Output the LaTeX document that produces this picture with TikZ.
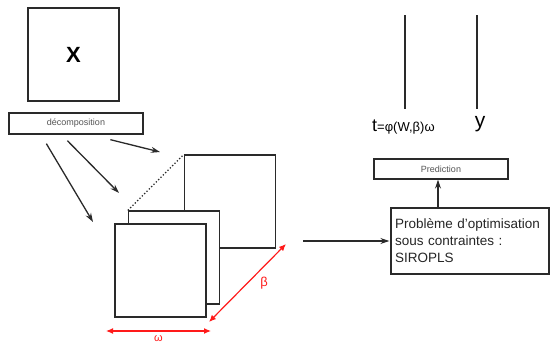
\documentclass[tikz,border=0pt]{standalone}
\usepackage{fontspec}
\setmainfont{Liberation Sans}
\usetikzlibrary{arrows.meta,positioning}
\definecolor{lineblack}{HTML}{2A2A2A}
\definecolor{labelgray}{HTML}{555555}
\definecolor{dimred}{HTML}{FF1A1A}

\begin{document}
\begin{tikzpicture}[x=1pt,y=-1pt,
  box/.style={draw=lineblack,line width=1.3pt,fill=white,inner sep=0pt},
  tag/.style={box,font=\fontsize{9}{10}\selectfont,text=labelgray},
  sheet/.style={box,minimum width=91,minimum height=93},
  link/.style={lineblack,line width=1.3pt},
  >={Stealth[length=9pt,width=6pt]},
  dim/.style={draw=dimred,line width=1.2pt,{Latex[length=7pt,width=6pt]}-{Latex[length=7pt,width=6pt]}}]
\useasboundingbox (0,0) rectangle (550,343);
% input and decomposition
\node[box,minimum width=91,minimum height=93,font=\fontsize{22}{22}\bfseries] (x) at (73.5,54.5) {X};
\node[tag,minimum width=134,minimum height=21] (decomp) at (76,123.5) {décomposition};
% stacked components
\node[sheet] (back) at (230,201.5) {};
\node[sheet] (middle) at (174,257.5) {};
\node[sheet] (front) at (160.5,270.5) {};
\draw[link,dotted] (middle.north west) -- (back.north west);
\coordinate (d1) at (160,152);
\coordinate (d2) at (119,193);
\coordinate (d3) at (93,222);
\draw[->,link] ([xshift=102pt,yshift=-5pt]decomp.south west) -- (d1);
\draw[->,link] ([xshift=59pt,yshift=-6pt]decomp.south west) -- (d2);
\draw[->,link] ([xshift=38pt,yshift=-9pt]decomp.south west) -- (d3);
% dimensions
\coordinate (w1) at (106,331);
\coordinate (w2) at (211,331);
\coordinate (b1) at (209,322);
\coordinate (b2) at (286,244);
\draw[dim] (w1) -- (w2) node[midway,below=1pt,text=dimred,font=\fontsize{11}{11}\selectfont] (omega) {ω};
\draw[dim] (b1) -- (b2) node[midway,right=9pt,text=dimred,font=\fontsize{13}{13}\selectfont] (beta) {β};
% optimisation and prediction
\node[box,minimum width=158,minimum height=66,align=left,text width=150,inner sep=4pt,
  font=\fontsize{13.5}{17}\selectfont,text=black!85] (opt) at (470,241)
  {Problème d'optimisation\\sous contraintes :\\SIROPLS};
\node[tag,minimum width=134,minimum height=20] (pred) at (441,169) {Prediction};
\draw[->,link] ([xshift=-87pt]opt.west) -- ([xshift=-1pt]opt.west);
\draw[->,link] (opt.north -| 438,0) -- (pred.south -| 438,0);
% scores and response
\node[anchor=west,inner sep=0pt] (t) at (372,127)
  {\fontsize{18}{18}\selectfont t\fontsize{13}{13}\selectfont=φ(W,β)ω};
\node[inner sep=0pt,font=\fontsize{21}{21}\selectfont] (y) at (480,124) {y};
\coordinate (ttop) at (405,15);
\coordinate (ytop) at (477,15);
\draw[link] (ttop) -- (405,109);
\draw[link] (ytop) -- (477,109);
\end{tikzpicture}
\end{document}
